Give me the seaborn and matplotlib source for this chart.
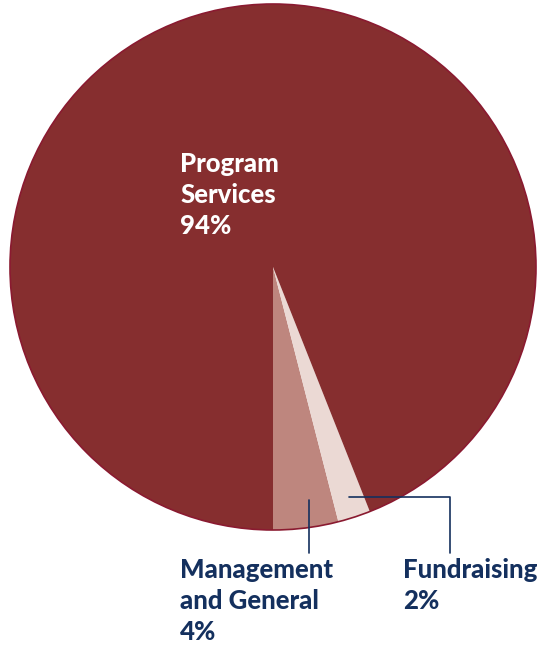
import matplotlib
matplotlib.use("Agg")
import matplotlib.pyplot as plt
import seaborn as sns
from matplotlib.patches import Circle

categories = ["Management\nand General", "Fundraising", "Program\nServices"]
shares = [4, 2, 94]
colors = ["#BE867E", "#EBD9D4", "#862E2F"]
navy = "#14305E"

sns.set_theme(style="white")
plt.rcParams['font.family'] = ['Lato', 'DejaVu Sans']

W, H = 543, 645
fig = plt.figure(figsize=(W / 100, H / 100), dpi=100)
ax = fig.add_axes([0, 0, 1, 1])
ax.set_xlim(0, W)
ax.set_ylim(0, H)
ax.axis('off')

cx, cy, r = 273, H - 267, 263
ax.pie(shares, colors=colors, startangle=-90, counterclock=True,
       center=(cx, cy), radius=r, wedgeprops=dict(linewidth=0))
ax.add_patch(Circle((cx, cy), r, fill=False, edgecolor="#8A1A30", linewidth=1.2))
ax.set_xlim(0, W)
ax.set_ylim(0, H)
ax.set_aspect('equal')

fs = 18.5
fw = 'black'
lh = 31
# Program Services label
for i, t in enumerate(["Program", "Services", f"{shares[2]}%"]):
    ax.text(180, H - 164 - i * lh, t, color="white", fontsize=fs,
            fontweight=fw, va='center', ha='left')

# Management and General label
for i, t in enumerate(["Management", "and General", f"{shares[0]}%"]):
    ax.text(180, H - 570 - i * lh, t, color=navy, fontsize=fs,
            fontweight=fw, va='center', ha='left')

# Fundraising label
for i, t in enumerate(["Fundraising", f"{shares[1]}%"]):
    ax.text(403, H - 570 - i * lh, t, color=navy, fontsize=fs,
            fontweight=fw, va='center', ha='left')

# leader lines
ax.plot([309, 309], [H - 500, H - 553], color=navy, lw=1.2)
ax.plot([349, 450, 450], [H - 497, H - 497, H - 553], color=navy, lw=1.2)

fig.savefig("out.png", dpi=100)
